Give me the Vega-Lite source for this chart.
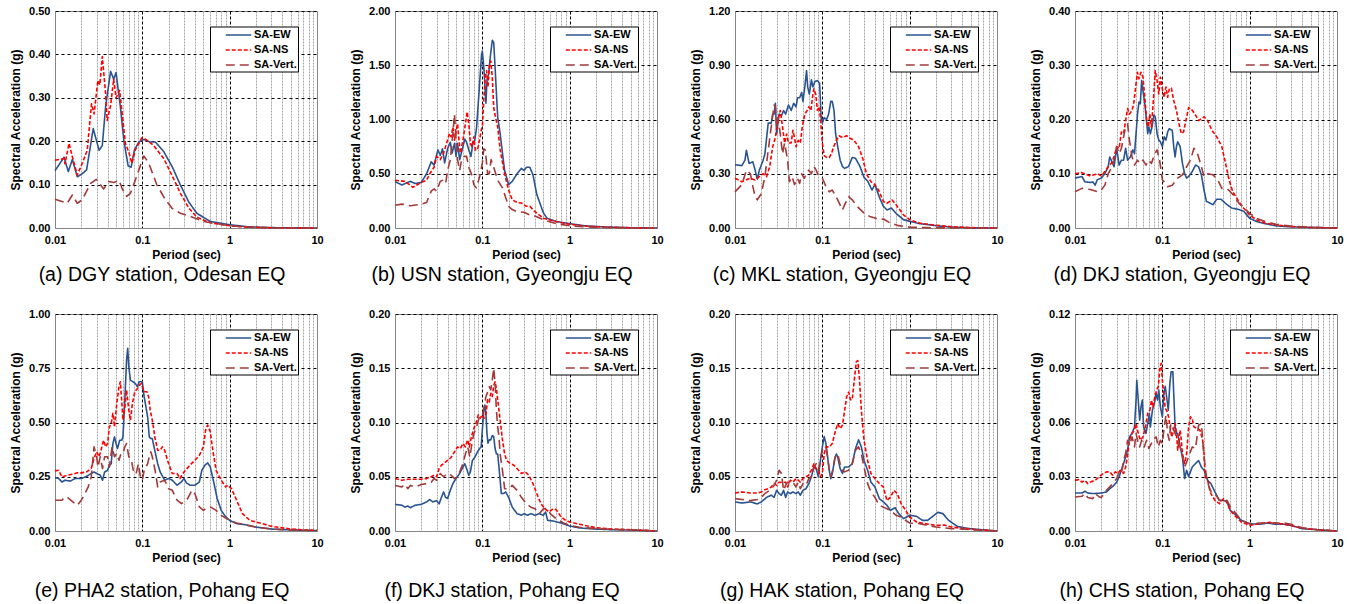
{
"$schema":"https://vega.github.io/schema/vega-lite/v6.json",
"background":"white",
"padding":{"left":8,"top":4,"right":5,"bottom":4},
"columns":4,
"bounds":"flush",
"spacing":{"row":86,"column":78},
"resolve":{"scale":{"color":"independent","strokeDash":"independent","x":"independent","y":"independent"}},
"config":{
 "font":"Liberation Sans",
 "view":{"stroke":"#868686","strokeWidth":1},
 "axis":{"labelFont":"Liberation Sans","labelFontSize":11,"labelFontWeight":"bold","labelColor":"#000","titleFont":"Liberation Sans","titleFontSize":12,"titleFontWeight":"bold","titleColor":"#000","ticks":false,"domainColor":"#868686","domainWidth":1,"grid":true},
 "axisY":{"format":".2f","gridColor":"#000","gridDash":[3,3],"gridWidth":1,"labelPadding":5,"minExtent":30,"maxExtent":30,"titlePadding":3},
 "axisX":{"labelPadding":6.5,"titlePadding":3.5,"labelFlush":false,"labelOverlap":false},
 "legend":{"orient":"none","legendX":155,"legendY":15.5,"symbolType":"M-1.96,0H1.96","symbolSize":169,"symbolStrokeWidth":2,"symbolOffset":20,"labelOffset":8,"labelFont":"Liberation Sans","labelFontSize":11,"labelFontWeight":"bold","labelColor":"#000","padding":1,"rowPadding":2,"strokeColor":"#000","fillColor":"#fff"},
 "title":{"orient":"bottom","anchor":"middle","font":"Liberation Sans","fontSize":19.5,"fontWeight":"normal","color":"#000","dx":-24},
 "line":{"strokeWidth":1.6,"strokeJoin":"round"}
},
"datasets":{
"aEW":[{"t":0.01,"v":0.132},{"t":0.0127,"v":0.163},{"t":0.0142,"v":0.13},{"t":0.0158,"v":0.158},{"t":0.018,"v":0.118},{"t":0.0205,"v":0.125},{"t":0.023,"v":0.134},{"t":0.0274,"v":0.229},{"t":0.032,"v":0.179},{"t":0.0348,"v":0.19},{"t":0.038,"v":0.28},{"t":0.0433,"v":0.361},{"t":0.047,"v":0.343},{"t":0.05,"v":0.358},{"t":0.056,"v":0.28},{"t":0.0614,"v":0.202},{"t":0.0688,"v":0.143},{"t":0.0744,"v":0.14},{"t":0.081,"v":0.179},{"t":0.091,"v":0.198},{"t":0.104,"v":0.204},{"t":0.124,"v":0.198},{"t":0.141,"v":0.198},{"t":0.176,"v":0.176},{"t":0.22,"v":0.141},{"t":0.273,"v":0.099},{"t":0.34,"v":0.06},{"t":0.42,"v":0.034},{"t":0.6,"v":0.015},{"t":1,"v":0.0076},{"t":1.58,"v":0.003},{"t":2.7,"v":0.001},{"t":5,"v":0.0003},{"t":10,"v":0}],
"aNS":[{"t":0.01,"v":0.156},{"t":0.0127,"v":0.16},{"t":0.013,"v":0.148},{"t":0.0145,"v":0.195},{"t":0.0158,"v":0.164},{"t":0.018,"v":0.122},{"t":0.0205,"v":0.149},{"t":0.0234,"v":0.179},{"t":0.0262,"v":0.286},{"t":0.028,"v":0.263},{"t":0.031,"v":0.34},{"t":0.0326,"v":0.33},{"t":0.0348,"v":0.395},{"t":0.038,"v":0.309},{"t":0.0396,"v":0.248},{"t":0.0433,"v":0.282},{"t":0.047,"v":0.343},{"t":0.05,"v":0.3},{"t":0.055,"v":0.317},{"t":0.064,"v":0.195},{"t":0.07,"v":0.175},{"t":0.076,"v":0.149},{"t":0.083,"v":0.18},{"t":0.099,"v":0.208},{"t":0.108,"v":0.205},{"t":0.135,"v":0.19},{"t":0.176,"v":0.16},{"t":0.22,"v":0.12},{"t":0.273,"v":0.08},{"t":0.34,"v":0.046},{"t":0.42,"v":0.025},{"t":0.6,"v":0.012},{"t":1,"v":0.005},{"t":1.6,"v":0.002},{"t":3,"v":0.0005},{"t":10,"v":0}],
"aV":[{"t":0.01,"v":0.066},{"t":0.0138,"v":0.057},{"t":0.0158,"v":0.076},{"t":0.018,"v":0.057},{"t":0.0205,"v":0.065},{"t":0.0256,"v":0.103},{"t":0.0297,"v":0.112},{"t":0.033,"v":0.1},{"t":0.036,"v":0.09},{"t":0.0414,"v":0.107},{"t":0.047,"v":0.105},{"t":0.054,"v":0.11},{"t":0.059,"v":0.09},{"t":0.066,"v":0.073},{"t":0.073,"v":0.08},{"t":0.083,"v":0.11},{"t":0.104,"v":0.166},{"t":0.118,"v":0.15},{"t":0.147,"v":0.099},{"t":0.184,"v":0.065},{"t":0.22,"v":0.045},{"t":0.273,"v":0.034},{"t":0.35,"v":0.027},{"t":0.5,"v":0.015},{"t":1,"v":0.005},{"t":2,"v":0.001},{"t":10,"v":0}],
"bEW":[{"t":0.01,"v":0.427},{"t":0.012,"v":0.397},{"t":0.015,"v":0.43},{"t":0.017,"v":0.41},{"t":0.02,"v":0.42},{"t":0.023,"v":0.5},{"t":0.026,"v":0.61},{"t":0.028,"v":0.58},{"t":0.031,"v":0.72},{"t":0.033,"v":0.67},{"t":0.035,"v":0.73},{"t":0.037,"v":0.6},{"t":0.04,"v":0.73},{"t":0.043,"v":0.79},{"t":0.045,"v":0.69},{"t":0.048,"v":0.78},{"t":0.05,"v":0.66},{"t":0.052,"v":0.78},{"t":0.055,"v":0.63},{"t":0.06,"v":0.75},{"t":0.063,"v":0.82},{"t":0.066,"v":0.79},{"t":0.07,"v":0.72},{"t":0.074,"v":0.66},{"t":0.078,"v":0.78},{"t":0.082,"v":0.81},{"t":0.086,"v":0.93},{"t":0.092,"v":1.27},{"t":0.098,"v":1.6},{"t":0.1,"v":1.63},{"t":0.104,"v":1.48},{"t":0.11,"v":1.15},{"t":0.113,"v":1.36},{"t":0.118,"v":1.42},{"t":0.123,"v":1.57},{"t":0.13,"v":1.73},{"t":0.135,"v":1.71},{"t":0.14,"v":1.48},{"t":0.145,"v":1.24},{"t":0.15,"v":1.02},{"t":0.16,"v":0.87},{"t":0.17,"v":0.69},{"t":0.18,"v":0.53},{"t":0.2,"v":0.4},{"t":0.22,"v":0.43},{"t":0.25,"v":0.5},{"t":0.28,"v":0.55},{"t":0.3,"v":0.53},{"t":0.32,"v":0.56},{"t":0.35,"v":0.56},{"t":0.38,"v":0.49},{"t":0.42,"v":0.31},{"t":0.5,"v":0.14},{"t":0.55,"v":0.09},{"t":0.7,"v":0.06},{"t":1,"v":0.04},{"t":1.5,"v":0.02},{"t":2.5,"v":0.01},{"t":5,"v":0.002},{"t":10,"v":0}],
"bNS":[{"t":0.01,"v":0.44},{"t":0.013,"v":0.43},{"t":0.016,"v":0.375},{"t":0.02,"v":0.42},{"t":0.023,"v":0.44},{"t":0.025,"v":0.5},{"t":0.028,"v":0.56},{"t":0.03,"v":0.66},{"t":0.033,"v":0.63},{"t":0.036,"v":0.69},{"t":0.038,"v":0.75},{"t":0.042,"v":0.87},{"t":0.044,"v":0.84},{"t":0.046,"v":0.93},{"t":0.048,"v":0.81},{"t":0.052,"v":0.96},{"t":0.054,"v":0.81},{"t":0.056,"v":0.69},{"t":0.06,"v":0.81},{"t":0.064,"v":0.96},{"t":0.067,"v":1.07},{"t":0.07,"v":0.96},{"t":0.073,"v":0.78},{"t":0.076,"v":0.75},{"t":0.08,"v":0.84},{"t":0.083,"v":0.72},{"t":0.088,"v":0.72},{"t":0.093,"v":0.81},{"t":0.097,"v":0.9},{"t":0.1,"v":0.93},{"t":0.104,"v":1.18},{"t":0.108,"v":1.39},{"t":0.112,"v":1.45},{"t":0.116,"v":1.3},{"t":0.12,"v":1.48},{"t":0.125,"v":1.54},{"t":0.13,"v":1.39},{"t":0.135,"v":1.11},{"t":0.14,"v":1.04},{"t":0.15,"v":0.93},{"t":0.16,"v":0.72},{"t":0.18,"v":0.5},{"t":0.2,"v":0.35},{"t":0.22,"v":0.26},{"t":0.25,"v":0.235},{"t":0.28,"v":0.23},{"t":0.32,"v":0.2},{"t":0.35,"v":0.2},{"t":0.4,"v":0.15},{"t":0.5,"v":0.09},{"t":0.7,"v":0.06},{"t":1,"v":0.034},{"t":1.5,"v":0.018},{"t":2.5,"v":0.008},{"t":5,"v":0.002},{"t":10,"v":0}],
"bV":[{"t":0.01,"v":0.21},{"t":0.012,"v":0.22},{"t":0.015,"v":0.205},{"t":0.02,"v":0.22},{"t":0.023,"v":0.235},{"t":0.026,"v":0.34},{"t":0.028,"v":0.36},{"t":0.03,"v":0.34},{"t":0.033,"v":0.43},{"t":0.035,"v":0.44},{"t":0.038,"v":0.41},{"t":0.04,"v":0.53},{"t":0.043,"v":0.63},{"t":0.046,"v":0.87},{"t":0.048,"v":1.05},{"t":0.05,"v":0.81},{"t":0.052,"v":0.63},{"t":0.055,"v":0.53},{"t":0.058,"v":0.63},{"t":0.062,"v":0.66},{"t":0.066,"v":0.66},{"t":0.07,"v":0.56},{"t":0.075,"v":0.5},{"t":0.08,"v":0.4},{"t":0.085,"v":0.37},{"t":0.09,"v":0.43},{"t":0.095,"v":0.5},{"t":0.1,"v":0.6},{"t":0.104,"v":0.73},{"t":0.108,"v":0.72},{"t":0.115,"v":0.5},{"t":0.12,"v":0.5},{"t":0.126,"v":0.63},{"t":0.135,"v":0.56},{"t":0.15,"v":0.44},{"t":0.17,"v":0.37},{"t":0.2,"v":0.2},{"t":0.22,"v":0.17},{"t":0.25,"v":0.15},{"t":0.3,"v":0.145},{"t":0.35,"v":0.12},{"t":0.4,"v":0.11},{"t":0.5,"v":0.076},{"t":0.7,"v":0.04},{"t":1,"v":0.02},{"t":2,"v":0.006},{"t":5,"v":0.001},{"t":10,"v":0}],
"cEW":[{"t":0.01,"v":0.35},{"t":0.012,"v":0.345},{"t":0.013,"v":0.375},{"t":0.0135,"v":0.43},{"t":0.0145,"v":0.357},{"t":0.016,"v":0.366},{"t":0.017,"v":0.32},{"t":0.018,"v":0.27},{"t":0.019,"v":0.32},{"t":0.021,"v":0.375},{"t":0.022,"v":0.41},{"t":0.024,"v":0.58},{"t":0.026,"v":0.58},{"t":0.027,"v":0.63},{"t":0.028,"v":0.63},{"t":0.029,"v":0.69},{"t":0.03,"v":0.52},{"t":0.032,"v":0.63},{"t":0.034,"v":0.62},{"t":0.036,"v":0.65},{"t":0.038,"v":0.63},{"t":0.041,"v":0.68},{"t":0.044,"v":0.65},{"t":0.047,"v":0.69},{"t":0.05,"v":0.67},{"t":0.052,"v":0.72},{"t":0.055,"v":0.72},{"t":0.058,"v":0.75},{"t":0.06,"v":0.7},{"t":0.063,"v":0.78},{"t":0.066,"v":0.87},{"t":0.068,"v":0.78},{"t":0.071,"v":0.74},{"t":0.075,"v":0.82},{"t":0.078,"v":0.78},{"t":0.082,"v":0.81},{"t":0.088,"v":0.815},{"t":0.093,"v":0.8},{"t":0.097,"v":0.61},{"t":0.1,"v":0.58},{"t":0.105,"v":0.61},{"t":0.112,"v":0.6},{"t":0.118,"v":0.63},{"t":0.125,"v":0.7},{"t":0.13,"v":0.7},{"t":0.136,"v":0.65},{"t":0.142,"v":0.52},{"t":0.15,"v":0.45},{"t":0.16,"v":0.375},{"t":0.17,"v":0.34},{"t":0.18,"v":0.33},{"t":0.2,"v":0.34},{"t":0.22,"v":0.39},{"t":0.24,"v":0.385},{"t":0.27,"v":0.34},{"t":0.3,"v":0.28},{"t":0.33,"v":0.26},{"t":0.37,"v":0.21},{"t":0.4,"v":0.24},{"t":0.45,"v":0.17},{"t":0.5,"v":0.12},{"t":0.55,"v":0.1},{"t":0.62,"v":0.11},{"t":0.7,"v":0.08},{"t":0.85,"v":0.046},{"t":1,"v":0.037},{"t":1.3,"v":0.024},{"t":2,"v":0.013},{"t":3,"v":0.005},{"t":5,"v":0.001},{"t":10,"v":0}],
"cNS":[{"t":0.01,"v":0.275},{"t":0.012,"v":0.256},{"t":0.015,"v":0.275},{"t":0.017,"v":0.266},{"t":0.019,"v":0.284},{"t":0.021,"v":0.3},{"t":0.023,"v":0.284},{"t":0.025,"v":0.34},{"t":0.027,"v":0.45},{"t":0.029,"v":0.5},{"t":0.031,"v":0.6},{"t":0.033,"v":0.65},{"t":0.035,"v":0.56},{"t":0.037,"v":0.47},{"t":0.039,"v":0.52},{"t":0.041,"v":0.47},{"t":0.044,"v":0.47},{"t":0.046,"v":0.54},{"t":0.048,"v":0.5},{"t":0.05,"v":0.45},{"t":0.053,"v":0.485},{"t":0.056,"v":0.47},{"t":0.059,"v":0.56},{"t":0.063,"v":0.63},{"t":0.067,"v":0.65},{"t":0.07,"v":0.67},{"t":0.074,"v":0.65},{"t":0.077,"v":0.72},{"t":0.08,"v":0.77},{"t":0.084,"v":0.74},{"t":0.088,"v":0.65},{"t":0.092,"v":0.67},{"t":0.095,"v":0.61},{"t":0.1,"v":0.47},{"t":0.105,"v":0.4},{"t":0.112,"v":0.39},{"t":0.12,"v":0.39},{"t":0.127,"v":0.41},{"t":0.135,"v":0.45},{"t":0.145,"v":0.485},{"t":0.155,"v":0.51},{"t":0.17,"v":0.5},{"t":0.19,"v":0.51},{"t":0.21,"v":0.495},{"t":0.23,"v":0.485},{"t":0.26,"v":0.45},{"t":0.29,"v":0.385},{"t":0.32,"v":0.3},{"t":0.36,"v":0.256},{"t":0.4,"v":0.24},{"t":0.44,"v":0.21},{"t":0.5,"v":0.147},{"t":0.55,"v":0.137},{"t":0.63,"v":0.155},{"t":0.7,"v":0.128},{"t":0.85,"v":0.073},{"t":1,"v":0.046},{"t":1.3,"v":0.027},{"t":2,"v":0.015},{"t":3,"v":0.007},{"t":5,"v":0.002},{"t":10,"v":0}],
"cV":[{"t":0.01,"v":0.2},{"t":0.012,"v":0.24},{"t":0.0135,"v":0.32},{"t":0.015,"v":0.3},{"t":0.016,"v":0.23},{"t":0.017,"v":0.174},{"t":0.018,"v":0.156},{"t":0.02,"v":0.19},{"t":0.022,"v":0.284},{"t":0.024,"v":0.43},{"t":0.026,"v":0.56},{"t":0.028,"v":0.68},{"t":0.029,"v":0.67},{"t":0.03,"v":0.56},{"t":0.031,"v":0.61},{"t":0.033,"v":0.52},{"t":0.035,"v":0.41},{"t":0.037,"v":0.47},{"t":0.04,"v":0.375},{"t":0.042,"v":0.256},{"t":0.045,"v":0.284},{"t":0.048,"v":0.24},{"t":0.052,"v":0.275},{"t":0.055,"v":0.247},{"t":0.058,"v":0.3},{"t":0.062,"v":0.275},{"t":0.066,"v":0.3},{"t":0.07,"v":0.32},{"t":0.075,"v":0.3},{"t":0.08,"v":0.34},{"t":0.085,"v":0.32},{"t":0.09,"v":0.29},{"t":0.1,"v":0.275},{"t":0.11,"v":0.23},{"t":0.12,"v":0.2},{"t":0.13,"v":0.21},{"t":0.15,"v":0.156},{"t":0.17,"v":0.1},{"t":0.18,"v":0.128},{"t":0.2,"v":0.174},{"t":0.22,"v":0.156},{"t":0.25,"v":0.12},{"t":0.3,"v":0.082},{"t":0.35,"v":0.064},{"t":0.4,"v":0.055},{"t":0.45,"v":0.046},{"t":0.5,"v":0.05},{"t":0.6,"v":0.027},{"t":0.75,"v":0.013},{"t":1,"v":0.005},{"t":1.5,"v":0.002},{"t":3,"v":0},{"t":10,"v":0}],
"dEW":[{"t":0.01,"v":0.092},{"t":0.012,"v":0.095},{"t":0.013,"v":0.085},{"t":0.015,"v":0.084},{"t":0.016,"v":0.085},{"t":0.017,"v":0.079},{"t":0.018,"v":0.089},{"t":0.02,"v":0.092},{"t":0.022,"v":0.1},{"t":0.024,"v":0.113},{"t":0.025,"v":0.131},{"t":0.026,"v":0.125},{"t":0.028,"v":0.113},{"t":0.03,"v":0.147},{"t":0.032,"v":0.116},{"t":0.034,"v":0.125},{"t":0.036,"v":0.125},{"t":0.038,"v":0.147},{"t":0.04,"v":0.125},{"t":0.043,"v":0.131},{"t":0.046,"v":0.144},{"t":0.048,"v":0.137},{"t":0.05,"v":0.174},{"t":0.052,"v":0.21},{"t":0.054,"v":0.232},{"t":0.056,"v":0.229},{"t":0.058,"v":0.272},{"t":0.06,"v":0.253},{"t":0.063,"v":0.229},{"t":0.066,"v":0.198},{"t":0.068,"v":0.174},{"t":0.07,"v":0.186},{"t":0.073,"v":0.174},{"t":0.076,"v":0.186},{"t":0.08,"v":0.208},{"t":0.083,"v":0.205},{"t":0.087,"v":0.174},{"t":0.091,"v":0.162},{"t":0.095,"v":0.159},{"t":0.1,"v":0.15},{"t":0.105,"v":0.168},{"t":0.11,"v":0.162},{"t":0.115,"v":0.177},{"t":0.12,"v":0.183},{"t":0.13,"v":0.18},{"t":0.135,"v":0.15},{"t":0.14,"v":0.131},{"t":0.145,"v":0.15},{"t":0.15,"v":0.159},{"t":0.16,"v":0.15},{"t":0.17,"v":0.119},{"t":0.18,"v":0.1},{"t":0.19,"v":0.092},{"t":0.2,"v":0.095},{"t":0.22,"v":0.104},{"t":0.24,"v":0.116},{"t":0.26,"v":0.113},{"t":0.28,"v":0.098},{"t":0.3,"v":0.07},{"t":0.32,"v":0.049},{"t":0.35,"v":0.046},{"t":0.38,"v":0.043},{"t":0.42,"v":0.053},{"t":0.47,"v":0.053},{"t":0.55,"v":0.043},{"t":0.62,"v":0.037},{"t":0.75,"v":0.034},{"t":0.85,"v":0.031},{"t":1,"v":0.018},{"t":1.2,"v":0.012},{"t":1.5,"v":0.008},{"t":2,"v":0.004},{"t":3,"v":0.002},{"t":10,"v":0}],
"dNS":[{"t":0.01,"v":0.1},{"t":0.012,"v":0.102},{"t":0.015,"v":0.096},{"t":0.018,"v":0.1},{"t":0.02,"v":0.096},{"t":0.022,"v":0.104},{"t":0.024,"v":0.113},{"t":0.026,"v":0.119},{"t":0.028,"v":0.131},{"t":0.03,"v":0.15},{"t":0.032,"v":0.147},{"t":0.034,"v":0.177},{"t":0.036,"v":0.174},{"t":0.038,"v":0.198},{"t":0.04,"v":0.22},{"t":0.042,"v":0.21},{"t":0.045,"v":0.217},{"t":0.047,"v":0.229},{"t":0.05,"v":0.266},{"t":0.052,"v":0.287},{"t":0.054,"v":0.275},{"t":0.057,"v":0.287},{"t":0.06,"v":0.278},{"t":0.063,"v":0.241},{"t":0.066,"v":0.198},{"t":0.069,"v":0.186},{"t":0.072,"v":0.21},{"t":0.075,"v":0.186},{"t":0.079,"v":0.235},{"t":0.083,"v":0.29},{"t":0.087,"v":0.272},{"t":0.091,"v":0.247},{"t":0.095,"v":0.278},{"t":0.1,"v":0.256},{"t":0.105,"v":0.241},{"t":0.11,"v":0.26},{"t":0.115,"v":0.241},{"t":0.12,"v":0.256},{"t":0.127,"v":0.258},{"t":0.135,"v":0.235},{"t":0.145,"v":0.217},{"t":0.155,"v":0.192},{"t":0.165,"v":0.174},{"t":0.175,"v":0.177},{"t":0.19,"v":0.205},{"t":0.2,"v":0.222},{"t":0.22,"v":0.217},{"t":0.24,"v":0.208},{"t":0.26,"v":0.198},{"t":0.3,"v":0.205},{"t":0.33,"v":0.198},{"t":0.37,"v":0.18},{"t":0.42,"v":0.168},{"t":0.48,"v":0.15},{"t":0.53,"v":0.119},{"t":0.58,"v":0.089},{"t":0.64,"v":0.067},{"t":0.75,"v":0.049},{"t":0.85,"v":0.037},{"t":1,"v":0.024},{"t":1.2,"v":0.015},{"t":1.5,"v":0.009},{"t":2,"v":0.0055},{"t":3,"v":0.0025},{"t":5,"v":0.001},{"t":10,"v":0}],
"dV":[{"t":0.01,"v":0.067},{"t":0.012,"v":0.073},{"t":0.015,"v":0.071},{"t":0.018,"v":0.067},{"t":0.02,"v":0.07},{"t":0.022,"v":0.079},{"t":0.024,"v":0.1},{"t":0.026,"v":0.11},{"t":0.028,"v":0.125},{"t":0.03,"v":0.15},{"t":0.032,"v":0.137},{"t":0.034,"v":0.147},{"t":0.036,"v":0.168},{"t":0.038,"v":0.186},{"t":0.04,"v":0.192},{"t":0.042,"v":0.162},{"t":0.045,"v":0.131},{"t":0.048,"v":0.116},{"t":0.052,"v":0.125},{"t":0.055,"v":0.119},{"t":0.06,"v":0.125},{"t":0.065,"v":0.116},{"t":0.07,"v":0.125},{"t":0.075,"v":0.119},{"t":0.082,"v":0.137},{"t":0.087,"v":0.144},{"t":0.093,"v":0.125},{"t":0.1,"v":0.089},{"t":0.105,"v":0.085},{"t":0.115,"v":0.076},{"t":0.13,"v":0.079},{"t":0.15,"v":0.092},{"t":0.17,"v":0.098},{"t":0.19,"v":0.113},{"t":0.21,"v":0.125},{"t":0.23,"v":0.147},{"t":0.25,"v":0.14},{"t":0.28,"v":0.113},{"t":0.3,"v":0.095},{"t":0.33,"v":0.1},{"t":0.38,"v":0.098},{"t":0.43,"v":0.089},{"t":0.48,"v":0.073},{"t":0.55,"v":0.073},{"t":0.65,"v":0.061},{"t":0.75,"v":0.046},{"t":0.9,"v":0.034},{"t":1,"v":0.027},{"t":1.2,"v":0.018},{"t":1.5,"v":0.012},{"t":2,"v":0.007},{"t":3,"v":0.0035},{"t":5,"v":0.001},{"t":10,"v":0}],
"eEW":[{"t":0.01,"v":0.246},{"t":0.011,"v":0.242},{"t":0.012,"v":0.226},{"t":0.013,"v":0.234},{"t":0.015,"v":0.23},{"t":0.017,"v":0.242},{"t":0.02,"v":0.242},{"t":0.023,"v":0.252},{"t":0.026,"v":0.265},{"t":0.028,"v":0.272},{"t":0.03,"v":0.265},{"t":0.033,"v":0.257},{"t":0.035,"v":0.234},{"t":0.037,"v":0.272},{"t":0.04,"v":0.28},{"t":0.042,"v":0.303},{"t":0.044,"v":0.31},{"t":0.046,"v":0.403},{"t":0.048,"v":0.434},{"t":0.05,"v":0.403},{"t":0.052,"v":0.38},{"t":0.055,"v":0.418},{"t":0.058,"v":0.418},{"t":0.06,"v":0.434},{"t":0.063,"v":0.603},{"t":0.066,"v":0.788},{"t":0.068,"v":0.842},{"t":0.07,"v":0.757},{"t":0.073,"v":0.695},{"t":0.078,"v":0.688},{"t":0.083,"v":0.68},{"t":0.088,"v":0.665},{"t":0.092,"v":0.688},{"t":0.097,"v":0.688},{"t":0.1,"v":0.688},{"t":0.105,"v":0.618},{"t":0.11,"v":0.572},{"t":0.115,"v":0.526},{"t":0.12,"v":0.434},{"t":0.125,"v":0.426},{"t":0.13,"v":0.426},{"t":0.14,"v":0.365},{"t":0.15,"v":0.31},{"t":0.16,"v":0.272},{"t":0.18,"v":0.234},{"t":0.2,"v":0.242},{"t":0.22,"v":0.234},{"t":0.25,"v":0.211},{"t":0.28,"v":0.226},{"t":0.3,"v":0.242},{"t":0.32,"v":0.222},{"t":0.35,"v":0.211},{"t":0.4,"v":0.211},{"t":0.45,"v":0.226},{"t":0.48,"v":0.28},{"t":0.52,"v":0.303},{"t":0.56,"v":0.314},{"t":0.6,"v":0.295},{"t":0.65,"v":0.234},{"t":0.72,"v":0.149},{"t":0.8,"v":0.095},{"t":0.9,"v":0.065},{"t":1,"v":0.049},{"t":1.2,"v":0.034},{"t":1.5,"v":0.029},{"t":2,"v":0.018},{"t":3,"v":0.009},{"t":5,"v":0.005},{"t":10,"v":0.002}],
"eNS":[{"t":0.01,"v":0.277},{"t":0.011,"v":0.28},{"t":0.012,"v":0.249},{"t":0.014,"v":0.257},{"t":0.016,"v":0.262},{"t":0.018,"v":0.268},{"t":0.02,"v":0.268},{"t":0.023,"v":0.272},{"t":0.026,"v":0.288},{"t":0.028,"v":0.334},{"t":0.03,"v":0.365},{"t":0.032,"v":0.342},{"t":0.034,"v":0.38},{"t":0.036,"v":0.418},{"t":0.038,"v":0.388},{"t":0.04,"v":0.403},{"t":0.042,"v":0.48},{"t":0.044,"v":0.495},{"t":0.046,"v":0.542},{"t":0.048,"v":0.48},{"t":0.051,"v":0.588},{"t":0.054,"v":0.665},{"t":0.056,"v":0.688},{"t":0.058,"v":0.603},{"t":0.06,"v":0.511},{"t":0.063,"v":0.572},{"t":0.066,"v":0.649},{"t":0.07,"v":0.557},{"t":0.073,"v":0.511},{"t":0.077,"v":0.588},{"t":0.082,"v":0.642},{"t":0.088,"v":0.657},{"t":0.093,"v":0.672},{"t":0.098,"v":0.68},{"t":0.102,"v":0.649},{"t":0.107,"v":0.642},{"t":0.113,"v":0.642},{"t":0.118,"v":0.618},{"t":0.123,"v":0.557},{"t":0.13,"v":0.511},{"t":0.14,"v":0.426},{"t":0.15,"v":0.372},{"t":0.16,"v":0.372},{"t":0.17,"v":0.388},{"t":0.18,"v":0.372},{"t":0.2,"v":0.31},{"t":0.22,"v":0.265},{"t":0.25,"v":0.265},{"t":0.27,"v":0.242},{"t":0.3,"v":0.272},{"t":0.35,"v":0.303},{"t":0.4,"v":0.326},{"t":0.45,"v":0.349},{"t":0.5,"v":0.388},{"t":0.53,"v":0.465},{"t":0.56,"v":0.488},{"t":0.6,"v":0.457},{"t":0.65,"v":0.357},{"t":0.7,"v":0.28},{"t":0.8,"v":0.234},{"t":0.9,"v":0.203},{"t":0.95,"v":0.211},{"t":1.05,"v":0.195},{"t":1.2,"v":0.142},{"t":1.4,"v":0.08},{"t":1.7,"v":0.049},{"t":2,"v":0.042},{"t":3,"v":0.022},{"t":5,"v":0.009},{"t":7,"v":0.005},{"t":10,"v":0.003}],
"eV":[{"t":0.01,"v":0.142},{"t":0.012,"v":0.142},{"t":0.013,"v":0.157},{"t":0.014,"v":0.154},{"t":0.016,"v":0.134},{"t":0.018,"v":0.118},{"t":0.02,"v":0.142},{"t":0.022,"v":0.172},{"t":0.024,"v":0.203},{"t":0.026,"v":0.249},{"t":0.028,"v":0.388},{"t":0.03,"v":0.342},{"t":0.031,"v":0.295},{"t":0.033,"v":0.342},{"t":0.035,"v":0.288},{"t":0.037,"v":0.342},{"t":0.04,"v":0.342},{"t":0.042,"v":0.295},{"t":0.045,"v":0.388},{"t":0.048,"v":0.342},{"t":0.051,"v":0.357},{"t":0.054,"v":0.326},{"t":0.057,"v":0.357},{"t":0.06,"v":0.357},{"t":0.063,"v":0.388},{"t":0.066,"v":0.403},{"t":0.07,"v":0.342},{"t":0.075,"v":0.326},{"t":0.08,"v":0.265},{"t":0.085,"v":0.265},{"t":0.09,"v":0.31},{"t":0.095,"v":0.249},{"t":0.1,"v":0.234},{"t":0.105,"v":0.28},{"t":0.11,"v":0.295},{"t":0.115,"v":0.31},{"t":0.12,"v":0.342},{"t":0.125,"v":0.365},{"t":0.13,"v":0.342},{"t":0.14,"v":0.28},{"t":0.15,"v":0.203},{"t":0.16,"v":0.226},{"t":0.18,"v":0.234},{"t":0.2,"v":0.195},{"t":0.22,"v":0.188},{"t":0.25,"v":0.142},{"t":0.28,"v":0.126},{"t":0.3,"v":0.134},{"t":0.33,"v":0.149},{"t":0.37,"v":0.188},{"t":0.4,"v":0.172},{"t":0.45,"v":0.111},{"t":0.5,"v":0.095},{"t":0.55,"v":0.108},{"t":0.6,"v":0.111},{"t":0.7,"v":0.095},{"t":0.8,"v":0.072},{"t":1,"v":0.049},{"t":1.2,"v":0.037},{"t":1.5,"v":0.029},{"t":2,"v":0.018},{"t":3,"v":0.009},{"t":5,"v":0.005},{"t":10,"v":0.002}],
"fEW":[{"t":0.01,"v":0.0246},{"t":0.012,"v":0.0237},{"t":0.013,"v":0.022},{"t":0.014,"v":0.023},{"t":0.015,"v":0.0215},{"t":0.017,"v":0.0237},{"t":0.02,"v":0.0246},{"t":0.023,"v":0.0268},{"t":0.025,"v":0.029},{"t":0.027,"v":0.0268},{"t":0.03,"v":0.028},{"t":0.032,"v":0.025},{"t":0.034,"v":0.031},{"t":0.036,"v":0.036},{"t":0.038,"v":0.031},{"t":0.04,"v":0.03},{"t":0.043,"v":0.0375},{"t":0.046,"v":0.0437},{"t":0.05,"v":0.0483},{"t":0.055,"v":0.053},{"t":0.06,"v":0.059},{"t":0.063,"v":0.062},{"t":0.066,"v":0.0575},{"t":0.07,"v":0.0514},{"t":0.073,"v":0.0545},{"t":0.077,"v":0.065},{"t":0.082,"v":0.068},{"t":0.088,"v":0.073},{"t":0.093,"v":0.076},{"t":0.097,"v":0.0775},{"t":0.1,"v":0.093},{"t":0.104,"v":0.111},{"t":0.107,"v":0.116},{"t":0.11,"v":0.108},{"t":0.113,"v":0.09},{"t":0.116,"v":0.081},{"t":0.12,"v":0.084},{"t":0.125,"v":0.084},{"t":0.13,"v":0.088},{"t":0.135,"v":0.087},{"t":0.14,"v":0.076},{"t":0.145,"v":0.071},{"t":0.15,"v":0.071},{"t":0.155,"v":0.059},{"t":0.16,"v":0.0468},{"t":0.165,"v":0.0345},{"t":0.175,"v":0.0345},{"t":0.185,"v":0.036},{"t":0.2,"v":0.031},{"t":0.22,"v":0.022},{"t":0.25,"v":0.016},{"t":0.28,"v":0.0145},{"t":0.3,"v":0.016},{"t":0.33,"v":0.0145},{"t":0.36,"v":0.016},{"t":0.4,"v":0.0145},{"t":0.45,"v":0.016},{"t":0.5,"v":0.0145},{"t":0.53,"v":0.0175},{"t":0.56,"v":0.0098},{"t":0.65,"v":0.0092},{"t":0.8,"v":0.0074},{"t":1,"v":0.0046},{"t":1.3,"v":0.0028},{"t":2,"v":0.0018},{"t":3,"v":0.0012},{"t":5,"v":0.0009},{"t":10,"v":0}],
"fNS":[{"t":0.01,"v":0.0483},{"t":0.012,"v":0.0468},{"t":0.014,"v":0.0477},{"t":0.017,"v":0.0477},{"t":0.02,"v":0.0477},{"t":0.023,"v":0.0483},{"t":0.026,"v":0.05},{"t":0.028,"v":0.0514},{"t":0.03,"v":0.05},{"t":0.032,"v":0.0575},{"t":0.034,"v":0.0606},{"t":0.036,"v":0.062},{"t":0.04,"v":0.065},{"t":0.044,"v":0.068},{"t":0.048,"v":0.073},{"t":0.052,"v":0.0775},{"t":0.056,"v":0.076},{"t":0.06,"v":0.0806},{"t":0.064,"v":0.0775},{"t":0.068,"v":0.084},{"t":0.071,"v":0.0775},{"t":0.075,"v":0.087},{"t":0.08,"v":0.0945},{"t":0.085,"v":0.1},{"t":0.09,"v":0.107},{"t":0.095,"v":0.104},{"t":0.1,"v":0.107},{"t":0.105,"v":0.104},{"t":0.11,"v":0.108},{"t":0.115,"v":0.121},{"t":0.12,"v":0.119},{"t":0.125,"v":0.127},{"t":0.13,"v":0.124},{"t":0.135,"v":0.134},{"t":0.14,"v":0.1375},{"t":0.145,"v":0.131},{"t":0.15,"v":0.121},{"t":0.16,"v":0.102},{"t":0.17,"v":0.084},{"t":0.18,"v":0.071},{"t":0.19,"v":0.065},{"t":0.21,"v":0.062},{"t":0.23,"v":0.0606},{"t":0.26,"v":0.056},{"t":0.28,"v":0.053},{"t":0.31,"v":0.0545},{"t":0.34,"v":0.0514},{"t":0.38,"v":0.0437},{"t":0.42,"v":0.0345},{"t":0.47,"v":0.025},{"t":0.52,"v":0.0206},{"t":0.58,"v":0.0175},{"t":0.65,"v":0.0206},{"t":0.7,"v":0.0197},{"t":0.8,"v":0.0129},{"t":0.9,"v":0.0098},{"t":1,"v":0.0083},{"t":1.3,"v":0.0062},{"t":1.6,"v":0.0046},{"t":2,"v":0.0031},{"t":3,"v":0.0018},{"t":5,"v":0.0012},{"t":7,"v":0.0006},{"t":10,"v":0}],
"fV":[{"t":0.01,"v":0.042},{"t":0.012,"v":0.0406},{"t":0.013,"v":0.043},{"t":0.014,"v":0.039},{"t":0.015,"v":0.042},{"t":0.017,"v":0.0406},{"t":0.02,"v":0.0428},{"t":0.023,"v":0.0437},{"t":0.026,"v":0.045},{"t":0.028,"v":0.0483},{"t":0.03,"v":0.0468},{"t":0.033,"v":0.053},{"t":0.036,"v":0.05},{"t":0.04,"v":0.053},{"t":0.044,"v":0.0514},{"t":0.048,"v":0.0483},{"t":0.052,"v":0.05},{"t":0.056,"v":0.056},{"t":0.06,"v":0.062},{"t":0.064,"v":0.071},{"t":0.068,"v":0.0775},{"t":0.072,"v":0.068},{"t":0.076,"v":0.0806},{"t":0.08,"v":0.09},{"t":0.085,"v":0.0945},{"t":0.09,"v":0.102},{"t":0.095,"v":0.107},{"t":0.1,"v":0.107},{"t":0.105,"v":0.1145},{"t":0.11,"v":0.124},{"t":0.115,"v":0.128},{"t":0.12,"v":0.133},{"t":0.125,"v":0.13},{"t":0.13,"v":0.139},{"t":0.135,"v":0.15},{"t":0.14,"v":0.136},{"t":0.145,"v":0.111},{"t":0.15,"v":0.096},{"t":0.155,"v":0.087},{"t":0.16,"v":0.071},{"t":0.17,"v":0.056},{"t":0.18,"v":0.039},{"t":0.2,"v":0.039},{"t":0.22,"v":0.042},{"t":0.25,"v":0.0375},{"t":0.28,"v":0.031},{"t":0.32,"v":0.025},{"t":0.36,"v":0.022},{"t":0.4,"v":0.0206},{"t":0.45,"v":0.016},{"t":0.5,"v":0.0206},{"t":0.55,"v":0.0206},{"t":0.6,"v":0.016},{"t":0.7,"v":0.0114},{"t":0.85,"v":0.0074},{"t":1,"v":0.0052},{"t":1.3,"v":0.0034},{"t":2,"v":0.0022},{"t":3,"v":0.0015},{"t":5,"v":0.0012},{"t":10,"v":0}],
"gEW":[{"t":0.01,"v":0.0268},{"t":0.012,"v":0.0258},{"t":0.015,"v":0.0268},{"t":0.018,"v":0.025},{"t":0.02,"v":0.0268},{"t":0.023,"v":0.031},{"t":0.026,"v":0.033},{"t":0.028,"v":0.031},{"t":0.03,"v":0.0375},{"t":0.032,"v":0.0345},{"t":0.034,"v":0.033},{"t":0.036,"v":0.0375},{"t":0.038,"v":0.031},{"t":0.04,"v":0.036},{"t":0.043,"v":0.0345},{"t":0.046,"v":0.036},{"t":0.05,"v":0.0345},{"t":0.053,"v":0.036},{"t":0.056,"v":0.033},{"t":0.06,"v":0.0375},{"t":0.065,"v":0.039},{"t":0.07,"v":0.0437},{"t":0.075,"v":0.05},{"t":0.08,"v":0.059},{"t":0.085,"v":0.0575},{"t":0.09,"v":0.05},{"t":0.095,"v":0.065},{"t":0.1,"v":0.0775},{"t":0.105,"v":0.087},{"t":0.11,"v":0.0806},{"t":0.115,"v":0.068},{"t":0.12,"v":0.056},{"t":0.125,"v":0.0483},{"t":0.13,"v":0.053},{"t":0.14,"v":0.068},{"t":0.145,"v":0.071},{"t":0.15,"v":0.068},{"t":0.16,"v":0.0575},{"t":0.17,"v":0.053},{"t":0.18,"v":0.059},{"t":0.2,"v":0.059},{"t":0.22,"v":0.062},{"t":0.24,"v":0.076},{"t":0.26,"v":0.084},{"t":0.28,"v":0.0775},{"t":0.3,"v":0.065},{"t":0.33,"v":0.056},{"t":0.36,"v":0.045},{"t":0.4,"v":0.0406},{"t":0.45,"v":0.0298},{"t":0.5,"v":0.0268},{"t":0.55,"v":0.0237},{"t":0.6,"v":0.019},{"t":0.68,"v":0.0215},{"t":0.75,"v":0.016},{"t":0.85,"v":0.0114},{"t":1,"v":0.0145},{"t":1.2,"v":0.0135},{"t":1.4,"v":0.0098},{"t":1.6,"v":0.0098},{"t":1.8,"v":0.0129},{"t":2.1,"v":0.0172},{"t":2.4,"v":0.016},{"t":2.8,"v":0.0098},{"t":3.5,"v":0.0043},{"t":4.5,"v":0.0025},{"t":6,"v":0.0015},{"t":10,"v":0}],
"gNS":[{"t":0.01,"v":0.035},{"t":0.012,"v":0.036},{"t":0.015,"v":0.035},{"t":0.018,"v":0.035},{"t":0.02,"v":0.036},{"t":0.022,"v":0.038},{"t":0.024,"v":0.039},{"t":0.026,"v":0.0406},{"t":0.028,"v":0.0437},{"t":0.03,"v":0.042},{"t":0.032,"v":0.045},{"t":0.035,"v":0.045},{"t":0.038,"v":0.045},{"t":0.04,"v":0.0406},{"t":0.043,"v":0.0468},{"t":0.046,"v":0.045},{"t":0.05,"v":0.0483},{"t":0.053,"v":0.0468},{"t":0.056,"v":0.045},{"t":0.06,"v":0.0483},{"t":0.065,"v":0.05},{"t":0.07,"v":0.0514},{"t":0.075,"v":0.056},{"t":0.08,"v":0.062},{"t":0.085,"v":0.0575},{"t":0.09,"v":0.056},{"t":0.095,"v":0.05},{"t":0.1,"v":0.053},{"t":0.105,"v":0.071},{"t":0.11,"v":0.0775},{"t":0.12,"v":0.0775},{"t":0.13,"v":0.0806},{"t":0.14,"v":0.091},{"t":0.15,"v":0.099},{"t":0.16,"v":0.0945},{"t":0.17,"v":0.0975},{"t":0.18,"v":0.111},{"t":0.19,"v":0.124},{"t":0.2,"v":0.128},{"t":0.21,"v":0.121},{"t":0.22,"v":0.121},{"t":0.23,"v":0.136},{"t":0.245,"v":0.156},{"t":0.255,"v":0.157},{"t":0.265,"v":0.142},{"t":0.28,"v":0.111},{"t":0.3,"v":0.0837},{"t":0.33,"v":0.065},{"t":0.36,"v":0.053},{"t":0.4,"v":0.0483},{"t":0.45,"v":0.0437},{"t":0.5,"v":0.0406},{"t":0.55,"v":0.028},{"t":0.6,"v":0.031},{"t":0.66,"v":0.0375},{"t":0.72,"v":0.0345},{"t":0.8,"v":0.025},{"t":0.9,"v":0.019},{"t":1,"v":0.0129},{"t":1.2,"v":0.0083},{"t":1.5,"v":0.0068},{"t":2,"v":0.0052},{"t":2.5,"v":0.0055},{"t":3,"v":0.0037},{"t":4,"v":0.0025},{"t":6,"v":0.0012},{"t":10,"v":0}],
"gV":[{"t":0.01,"v":0.0298},{"t":0.012,"v":0.029},{"t":0.015,"v":0.028},{"t":0.018,"v":0.029},{"t":0.02,"v":0.031},{"t":0.022,"v":0.0345},{"t":0.025,"v":0.0375},{"t":0.028,"v":0.042},{"t":0.03,"v":0.0468},{"t":0.032,"v":0.056},{"t":0.034,"v":0.053},{"t":0.036,"v":0.0375},{"t":0.038,"v":0.042},{"t":0.04,"v":0.045},{"t":0.043,"v":0.0437},{"t":0.046,"v":0.045},{"t":0.05,"v":0.0406},{"t":0.053,"v":0.045},{"t":0.056,"v":0.039},{"t":0.06,"v":0.0437},{"t":0.065,"v":0.042},{"t":0.07,"v":0.0483},{"t":0.075,"v":0.05},{"t":0.08,"v":0.059},{"t":0.085,"v":0.062},{"t":0.09,"v":0.056},{"t":0.095,"v":0.065},{"t":0.1,"v":0.0745},{"t":0.105,"v":0.0775},{"t":0.11,"v":0.0775},{"t":0.115,"v":0.068},{"t":0.12,"v":0.056},{"t":0.125,"v":0.05},{"t":0.13,"v":0.0545},{"t":0.14,"v":0.068},{"t":0.15,"v":0.071},{"t":0.16,"v":0.062},{"t":0.17,"v":0.056},{"t":0.18,"v":0.0545},{"t":0.2,"v":0.056},{"t":0.22,"v":0.062},{"t":0.24,"v":0.0745},{"t":0.26,"v":0.0775},{"t":0.28,"v":0.071},{"t":0.3,"v":0.059},{"t":0.33,"v":0.0437},{"t":0.36,"v":0.036},{"t":0.4,"v":0.031},{"t":0.45,"v":0.0237},{"t":0.5,"v":0.022},{"t":0.6,"v":0.019},{"t":0.7,"v":0.0145},{"t":0.8,"v":0.0129},{"t":0.9,"v":0.0098},{"t":1,"v":0.0074},{"t":1.3,"v":0.0068},{"t":1.6,"v":0.0052},{"t":2,"v":0.0037},{"t":3,"v":0.0022},{"t":5,"v":0.0012},{"t":10,"v":0}],
"hEW":[{"t":0.01,"v":0.021},{"t":0.012,"v":0.021},{"t":0.013,"v":0.022},{"t":0.014,"v":0.021},{"t":0.016,"v":0.0207},{"t":0.02,"v":0.021},{"t":0.023,"v":0.0216},{"t":0.025,"v":0.0234},{"t":0.028,"v":0.0253},{"t":0.03,"v":0.027},{"t":0.032,"v":0.03},{"t":0.034,"v":0.0336},{"t":0.036,"v":0.0373},{"t":0.038,"v":0.041},{"t":0.04,"v":0.0447},{"t":0.042,"v":0.052},{"t":0.045,"v":0.054},{"t":0.048,"v":0.0576},{"t":0.05,"v":0.0724},{"t":0.051,"v":0.0834},{"t":0.053,"v":0.0724},{"t":0.055,"v":0.0613},{"t":0.057,"v":0.0687},{"t":0.059,"v":0.0724},{"t":0.061,"v":0.0576},{"t":0.065,"v":0.054},{"t":0.068,"v":0.0594},{"t":0.071,"v":0.065},{"t":0.073,"v":0.0576},{"t":0.077,"v":0.0668},{"t":0.081,"v":0.0705},{"t":0.085,"v":0.076},{"t":0.088,"v":0.0724},{"t":0.091,"v":0.078},{"t":0.095,"v":0.0687},{"t":0.1,"v":0.0631},{"t":0.104,"v":0.076},{"t":0.108,"v":0.08},{"t":0.112,"v":0.0742},{"t":0.117,"v":0.0668},{"t":0.122,"v":0.0816},{"t":0.126,"v":0.088},{"t":0.132,"v":0.088},{"t":0.136,"v":0.0724},{"t":0.14,"v":0.0576},{"t":0.145,"v":0.054},{"t":0.15,"v":0.054},{"t":0.16,"v":0.0465},{"t":0.17,"v":0.041},{"t":0.18,"v":0.029},{"t":0.19,"v":0.0336},{"t":0.2,"v":0.03},{"t":0.22,"v":0.0354},{"t":0.24,"v":0.0373},{"t":0.26,"v":0.039},{"t":0.28,"v":0.0354},{"t":0.3,"v":0.0336},{"t":0.33,"v":0.028},{"t":0.36,"v":0.0262},{"t":0.4,"v":0.0216},{"t":0.45,"v":0.017},{"t":0.5,"v":0.017},{"t":0.55,"v":0.016},{"t":0.6,"v":0.0114},{"t":0.7,"v":0.0087},{"t":0.8,"v":0.0059},{"t":1,"v":0.004},{"t":1.3,"v":0.0037},{"t":1.6,"v":0.0044},{"t":2,"v":0.0037},{"t":2.5,"v":0.0037},{"t":3,"v":0.003},{"t":4,"v":0.0013},{"t":6,"v":0.0007},{"t":10,"v":0}],
"hNS":[{"t":0.01,"v":0.028},{"t":0.011,"v":0.0284},{"t":0.012,"v":0.0271},{"t":0.013,"v":0.028},{"t":0.014,"v":0.0262},{"t":0.015,"v":0.0271},{"t":0.017,"v":0.028},{"t":0.019,"v":0.03},{"t":0.021,"v":0.0318},{"t":0.023,"v":0.0327},{"t":0.025,"v":0.0327},{"t":0.027,"v":0.0308},{"t":0.029,"v":0.0327},{"t":0.031,"v":0.0318},{"t":0.033,"v":0.0336},{"t":0.036,"v":0.0318},{"t":0.038,"v":0.0354},{"t":0.04,"v":0.0419},{"t":0.042,"v":0.0502},{"t":0.045,"v":0.054},{"t":0.048,"v":0.0557},{"t":0.05,"v":0.0594},{"t":0.053,"v":0.054},{"t":0.056,"v":0.0502},{"t":0.06,"v":0.052},{"t":0.064,"v":0.0576},{"t":0.068,"v":0.065},{"t":0.072,"v":0.0668},{"t":0.075,"v":0.0724},{"t":0.078,"v":0.0687},{"t":0.082,"v":0.0742},{"t":0.086,"v":0.078},{"t":0.09,"v":0.08},{"t":0.094,"v":0.0908},{"t":0.097,"v":0.0927},{"t":0.1,"v":0.0834},{"t":0.104,"v":0.076},{"t":0.108,"v":0.0677},{"t":0.112,"v":0.0668},{"t":0.118,"v":0.0631},{"t":0.123,"v":0.0576},{"t":0.128,"v":0.052},{"t":0.133,"v":0.0548},{"t":0.14,"v":0.0594},{"t":0.145,"v":0.054},{"t":0.15,"v":0.0447},{"t":0.155,"v":0.0502},{"t":0.16,"v":0.0557},{"t":0.165,"v":0.0502},{"t":0.17,"v":0.0428},{"t":0.18,"v":0.0373},{"t":0.19,"v":0.0428},{"t":0.2,"v":0.0576},{"t":0.21,"v":0.0631},{"t":0.22,"v":0.0622},{"t":0.23,"v":0.0576},{"t":0.25,"v":0.0567},{"t":0.27,"v":0.0557},{"t":0.29,"v":0.0502},{"t":0.3,"v":0.0428},{"t":0.31,"v":0.03},{"t":0.33,"v":0.028},{"t":0.36,"v":0.0207},{"t":0.4,"v":0.017},{"t":0.45,"v":0.0151},{"t":0.5,"v":0.0179},{"t":0.55,"v":0.016},{"t":0.6,"v":0.0114},{"t":0.7,"v":0.0078},{"t":0.8,"v":0.005},{"t":1,"v":0.0031},{"t":1.3,"v":0.004},{"t":1.7,"v":0.0048},{"t":2,"v":0.0044},{"t":2.5,"v":0.0037},{"t":3,"v":0.003},{"t":4,"v":0.0015},{"t":6,"v":0.0007},{"t":10,"v":0}],
"hV":[{"t":0.01,"v":0.0188},{"t":0.012,"v":0.0192},{"t":0.013,"v":0.0207},{"t":0.014,"v":0.0185},{"t":0.016,"v":0.0179},{"t":0.017,"v":0.0207},{"t":0.019,"v":0.0188},{"t":0.02,"v":0.0185},{"t":0.022,"v":0.0216},{"t":0.025,"v":0.0244},{"t":0.028,"v":0.0271},{"t":0.03,"v":0.029},{"t":0.032,"v":0.0327},{"t":0.034,"v":0.0318},{"t":0.036,"v":0.0391},{"t":0.038,"v":0.0428},{"t":0.04,"v":0.0502},{"t":0.042,"v":0.0474},{"t":0.045,"v":0.052},{"t":0.048,"v":0.0465},{"t":0.05,"v":0.054},{"t":0.052,"v":0.0502},{"t":0.055,"v":0.0465},{"t":0.058,"v":0.0502},{"t":0.062,"v":0.0465},{"t":0.066,"v":0.0502},{"t":0.07,"v":0.0456},{"t":0.075,"v":0.0484},{"t":0.08,"v":0.0511},{"t":0.085,"v":0.052},{"t":0.09,"v":0.0465},{"t":0.095,"v":0.0502},{"t":0.1,"v":0.0484},{"t":0.105,"v":0.0576},{"t":0.11,"v":0.064},{"t":0.115,"v":0.054},{"t":0.12,"v":0.0502},{"t":0.125,"v":0.0594},{"t":0.13,"v":0.0576},{"t":0.14,"v":0.054},{"t":0.15,"v":0.0502},{"t":0.16,"v":0.0465},{"t":0.17,"v":0.041},{"t":0.18,"v":0.0354},{"t":0.2,"v":0.041},{"t":0.22,"v":0.0465},{"t":0.24,"v":0.0456},{"t":0.26,"v":0.0585},{"t":0.28,"v":0.0594},{"t":0.29,"v":0.0502},{"t":0.3,"v":0.041},{"t":0.32,"v":0.03},{"t":0.35,"v":0.0225},{"t":0.4,"v":0.0207},{"t":0.45,"v":0.017},{"t":0.5,"v":0.016},{"t":0.55,"v":0.017},{"t":0.6,"v":0.0133},{"t":0.7,"v":0.0096},{"t":0.8,"v":0.0059},{"t":1,"v":0.004},{"t":1.3,"v":0.0044},{"t":1.8,"v":0.0044},{"t":2.5,"v":0.0044},{"t":3,"v":0.0037},{"t":4,"v":0.0018},{"t":6,"v":0.0007},{"t":10,"v":0}]
},
"concat":[
{"width":262,"height":217,"title":{"text":"(a) DGY station, Odesan EQ","offset":6},
 "encoding":{"x":{"field":"t","type":"quantitative","title":"Period (sec)","scale":{"type":"log","domain":[0.01,10]},"axis":{"values":[0.01,0.02,0.03,0.04,0.05,0.06,0.07,0.08,0.09,0.1,0.2,0.3,0.4,0.5,0.6,0.7,0.8,0.9,1,2,3,4,5,6,7,8,9,10],"format":"~g","labelExpr":"datum.value==0.01||datum.value==0.1||datum.value==1||datum.value==10 ? datum.label : ''","gridColor":{"condition":{"test":"datum.value==0.1||datum.value==1","value":"#000000"},"value":"#a8a8a8"},"gridDash":{"condition":{"test":"datum.value==0.1||datum.value==1","value":[3,2]},"value":[2,1]},"gridOpacity":{"condition":{"test":"datum.value==0.01||datum.value==10","value":0},"value":1}}},
  "y":{"field":"v","type":"quantitative","title":"Spectral Acceleration (g)","scale":{"domain":[0,0.5]},"axis":{"values":[0,0.1,0.2,0.3,0.4,0.5],"gridOpacity":{"condition":{"test":"datum.value==0","value":0},"value":1}}}},
 "layer":[
  {"data":{"name":"aEW"},"mark":"line","encoding":{"color":{"datum":"SA-EW","type":"nominal","scale":{"domain":["SA-EW","SA-NS","SA-Vert."],"range":["#2A5490","#FF0000","#A33A3A"]},"legend":{"title":null,"labelExpr":"datum.label + '   '"}},"strokeDash":{"datum":"SA-EW","type":"nominal","scale":{"domain":["SA-EW","SA-NS","SA-Vert."],"range":[[1,0],[4,2],[9,5]]},"legend":{"title":null,"labelExpr":"datum.label + '   '"}}}},
  {"data":{"name":"aNS"},"mark":"line","encoding":{"color":{"datum":"SA-NS","type":"nominal"},"strokeDash":{"datum":"SA-NS","type":"nominal"}}},
  {"data":{"name":"aV"},"mark":"line","encoding":{"color":{"datum":"SA-Vert.","type":"nominal"},"strokeDash":{"datum":"SA-Vert.","type":"nominal"}}}
 ]},
{"width":262,"height":217,"title":{"text":"(b) USN station, Gyeongju EQ","offset":6},
 "encoding":{"x":{"field":"t","type":"quantitative","title":"Period (sec)","scale":{"type":"log","domain":[0.01,10]},"axis":{"values":[0.01,0.02,0.03,0.04,0.05,0.06,0.07,0.08,0.09,0.1,0.2,0.3,0.4,0.5,0.6,0.7,0.8,0.9,1,2,3,4,5,6,7,8,9,10],"format":"~g","labelExpr":"datum.value==0.01||datum.value==0.1||datum.value==1||datum.value==10 ? datum.label : ''","gridColor":{"condition":{"test":"datum.value==0.1||datum.value==1","value":"#000000"},"value":"#a8a8a8"},"gridDash":{"condition":{"test":"datum.value==0.1||datum.value==1","value":[3,2]},"value":[2,1]},"gridOpacity":{"condition":{"test":"datum.value==0.01||datum.value==10","value":0},"value":1}}},
  "y":{"field":"v","type":"quantitative","title":"Spectral Acceleration (g)","scale":{"domain":[0,2]},"axis":{"values":[0,0.5,1,1.5,2],"gridOpacity":{"condition":{"test":"datum.value==0","value":0},"value":1}}}},
 "layer":[
  {"data":{"name":"bEW"},"mark":"line","encoding":{"color":{"datum":"SA-EW","type":"nominal","scale":{"domain":["SA-EW","SA-NS","SA-Vert."],"range":["#2A5490","#FF0000","#A33A3A"]},"legend":{"title":null,"labelExpr":"datum.label + '   '"}},"strokeDash":{"datum":"SA-EW","type":"nominal","scale":{"domain":["SA-EW","SA-NS","SA-Vert."],"range":[[1,0],[4,2],[9,5]]},"legend":{"title":null,"labelExpr":"datum.label + '   '"}}}},
  {"data":{"name":"bNS"},"mark":"line","encoding":{"color":{"datum":"SA-NS","type":"nominal"},"strokeDash":{"datum":"SA-NS","type":"nominal"}}},
  {"data":{"name":"bV"},"mark":"line","encoding":{"color":{"datum":"SA-Vert.","type":"nominal"},"strokeDash":{"datum":"SA-Vert.","type":"nominal"}}}
 ]},
{"width":262,"height":217,"title":{"text":"(c) MKL station, Gyeongju EQ","offset":6},
 "encoding":{"x":{"field":"t","type":"quantitative","title":"Period (sec)","scale":{"type":"log","domain":[0.01,10]},"axis":{"values":[0.01,0.02,0.03,0.04,0.05,0.06,0.07,0.08,0.09,0.1,0.2,0.3,0.4,0.5,0.6,0.7,0.8,0.9,1,2,3,4,5,6,7,8,9,10],"format":"~g","labelExpr":"datum.value==0.01||datum.value==0.1||datum.value==1||datum.value==10 ? datum.label : ''","gridColor":{"condition":{"test":"datum.value==0.1||datum.value==1","value":"#000000"},"value":"#a8a8a8"},"gridDash":{"condition":{"test":"datum.value==0.1||datum.value==1","value":[3,2]},"value":[2,1]},"gridOpacity":{"condition":{"test":"datum.value==0.01||datum.value==10","value":0},"value":1}}},
  "y":{"field":"v","type":"quantitative","title":"Spectral Acceleration (g)","scale":{"domain":[0,1.2]},"axis":{"values":[0,0.3,0.6,0.9,1.2],"gridOpacity":{"condition":{"test":"datum.value==0","value":0},"value":1}}}},
 "layer":[
  {"data":{"name":"cEW"},"mark":"line","encoding":{"color":{"datum":"SA-EW","type":"nominal","scale":{"domain":["SA-EW","SA-NS","SA-Vert."],"range":["#2A5490","#FF0000","#A33A3A"]},"legend":{"title":null,"labelExpr":"datum.label + '   '"}},"strokeDash":{"datum":"SA-EW","type":"nominal","scale":{"domain":["SA-EW","SA-NS","SA-Vert."],"range":[[1,0],[4,2],[9,5]]},"legend":{"title":null,"labelExpr":"datum.label + '   '"}}}},
  {"data":{"name":"cNS"},"mark":"line","encoding":{"color":{"datum":"SA-NS","type":"nominal"},"strokeDash":{"datum":"SA-NS","type":"nominal"}}},
  {"data":{"name":"cV"},"mark":"line","encoding":{"color":{"datum":"SA-Vert.","type":"nominal"},"strokeDash":{"datum":"SA-Vert.","type":"nominal"}}}
 ]},
{"width":262,"height":217,"title":{"text":"(d) DKJ station, Gyeongju EQ","offset":6},
 "encoding":{"x":{"field":"t","type":"quantitative","title":"Period (sec)","scale":{"type":"log","domain":[0.01,10]},"axis":{"values":[0.01,0.02,0.03,0.04,0.05,0.06,0.07,0.08,0.09,0.1,0.2,0.3,0.4,0.5,0.6,0.7,0.8,0.9,1,2,3,4,5,6,7,8,9,10],"format":"~g","labelExpr":"datum.value==0.01||datum.value==0.1||datum.value==1||datum.value==10 ? datum.label : ''","gridColor":{"condition":{"test":"datum.value==0.1||datum.value==1","value":"#000000"},"value":"#a8a8a8"},"gridDash":{"condition":{"test":"datum.value==0.1||datum.value==1","value":[3,2]},"value":[2,1]},"gridOpacity":{"condition":{"test":"datum.value==0.01||datum.value==10","value":0},"value":1}}},
  "y":{"field":"v","type":"quantitative","title":"Spectral Acceleration (g)","scale":{"domain":[0,0.4]},"axis":{"values":[0,0.1,0.2,0.3,0.4],"gridOpacity":{"condition":{"test":"datum.value==0","value":0},"value":1}}}},
 "layer":[
  {"data":{"name":"dEW"},"mark":"line","encoding":{"color":{"datum":"SA-EW","type":"nominal","scale":{"domain":["SA-EW","SA-NS","SA-Vert."],"range":["#2A5490","#FF0000","#A33A3A"]},"legend":{"title":null,"labelExpr":"datum.label + '   '"}},"strokeDash":{"datum":"SA-EW","type":"nominal","scale":{"domain":["SA-EW","SA-NS","SA-Vert."],"range":[[1,0],[4,2],[9,5]]},"legend":{"title":null,"labelExpr":"datum.label + '   '"}}}},
  {"data":{"name":"dNS"},"mark":"line","encoding":{"color":{"datum":"SA-NS","type":"nominal"},"strokeDash":{"datum":"SA-NS","type":"nominal"}}},
  {"data":{"name":"dV"},"mark":"line","encoding":{"color":{"datum":"SA-Vert.","type":"nominal"},"strokeDash":{"datum":"SA-Vert.","type":"nominal"}}}
 ]},
{"width":262,"height":217,"title":{"text":"(e) PHA2 station, Pohang EQ","offset":19},
 "encoding":{"x":{"field":"t","type":"quantitative","title":"Period (sec)","scale":{"type":"log","domain":[0.01,10]},"axis":{"values":[0.01,0.02,0.03,0.04,0.05,0.06,0.07,0.08,0.09,0.1,0.2,0.3,0.4,0.5,0.6,0.7,0.8,0.9,1,2,3,4,5,6,7,8,9,10],"format":"~g","labelExpr":"datum.value==0.01||datum.value==0.1||datum.value==1||datum.value==10 ? datum.label : ''","gridColor":{"condition":{"test":"datum.value==0.1||datum.value==1","value":"#000000"},"value":"#a8a8a8"},"gridDash":{"condition":{"test":"datum.value==0.1||datum.value==1","value":[3,2]},"value":[2,1]},"gridOpacity":{"condition":{"test":"datum.value==0.01||datum.value==10","value":0},"value":1}}},
  "y":{"field":"v","type":"quantitative","title":"Spectral Acceleration (g)","scale":{"domain":[0,1]},"axis":{"values":[0,0.25,0.5,0.75,1],"gridOpacity":{"condition":{"test":"datum.value==0","value":0},"value":1}}}},
 "layer":[
  {"data":{"name":"eEW"},"mark":"line","encoding":{"color":{"datum":"SA-EW","type":"nominal","scale":{"domain":["SA-EW","SA-NS","SA-Vert."],"range":["#2A5490","#FF0000","#A33A3A"]},"legend":{"title":null,"labelExpr":"datum.label + '   '"}},"strokeDash":{"datum":"SA-EW","type":"nominal","scale":{"domain":["SA-EW","SA-NS","SA-Vert."],"range":[[1,0],[4,2],[9,5]]},"legend":{"title":null,"labelExpr":"datum.label + '   '"}}}},
  {"data":{"name":"eNS"},"mark":"line","encoding":{"color":{"datum":"SA-NS","type":"nominal"},"strokeDash":{"datum":"SA-NS","type":"nominal"}}},
  {"data":{"name":"eV"},"mark":"line","encoding":{"color":{"datum":"SA-Vert.","type":"nominal"},"strokeDash":{"datum":"SA-Vert.","type":"nominal"}}}
 ]},
{"width":262,"height":217,"title":{"text":"(f) DKJ station, Pohang EQ","offset":19},
 "encoding":{"x":{"field":"t","type":"quantitative","title":"Period (sec)","scale":{"type":"log","domain":[0.01,10]},"axis":{"values":[0.01,0.02,0.03,0.04,0.05,0.06,0.07,0.08,0.09,0.1,0.2,0.3,0.4,0.5,0.6,0.7,0.8,0.9,1,2,3,4,5,6,7,8,9,10],"format":"~g","labelExpr":"datum.value==0.01||datum.value==0.1||datum.value==1||datum.value==10 ? datum.label : ''","gridColor":{"condition":{"test":"datum.value==0.1||datum.value==1","value":"#000000"},"value":"#a8a8a8"},"gridDash":{"condition":{"test":"datum.value==0.1||datum.value==1","value":[3,2]},"value":[2,1]},"gridOpacity":{"condition":{"test":"datum.value==0.01||datum.value==10","value":0},"value":1}}},
  "y":{"field":"v","type":"quantitative","title":"Spectral Acceleration (g)","scale":{"domain":[0,0.2]},"axis":{"values":[0,0.05,0.1,0.15,0.2],"gridOpacity":{"condition":{"test":"datum.value==0","value":0},"value":1}}}},
 "layer":[
  {"data":{"name":"fEW"},"mark":"line","encoding":{"color":{"datum":"SA-EW","type":"nominal","scale":{"domain":["SA-EW","SA-NS","SA-Vert."],"range":["#2A5490","#FF0000","#A33A3A"]},"legend":{"title":null,"labelExpr":"datum.label + '   '"}},"strokeDash":{"datum":"SA-EW","type":"nominal","scale":{"domain":["SA-EW","SA-NS","SA-Vert."],"range":[[1,0],[4,2],[9,5]]},"legend":{"title":null,"labelExpr":"datum.label + '   '"}}}},
  {"data":{"name":"fNS"},"mark":"line","encoding":{"color":{"datum":"SA-NS","type":"nominal"},"strokeDash":{"datum":"SA-NS","type":"nominal"}}},
  {"data":{"name":"fV"},"mark":"line","encoding":{"color":{"datum":"SA-Vert.","type":"nominal"},"strokeDash":{"datum":"SA-Vert.","type":"nominal"}}}
 ]},
{"width":262,"height":217,"title":{"text":"(g) HAK station, Pohang EQ","offset":19},
 "encoding":{"x":{"field":"t","type":"quantitative","title":"Period (sec)","scale":{"type":"log","domain":[0.01,10]},"axis":{"values":[0.01,0.02,0.03,0.04,0.05,0.06,0.07,0.08,0.09,0.1,0.2,0.3,0.4,0.5,0.6,0.7,0.8,0.9,1,2,3,4,5,6,7,8,9,10],"format":"~g","labelExpr":"datum.value==0.01||datum.value==0.1||datum.value==1||datum.value==10 ? datum.label : ''","gridColor":{"condition":{"test":"datum.value==0.1||datum.value==1","value":"#000000"},"value":"#a8a8a8"},"gridDash":{"condition":{"test":"datum.value==0.1||datum.value==1","value":[3,2]},"value":[2,1]},"gridOpacity":{"condition":{"test":"datum.value==0.01||datum.value==10","value":0},"value":1}}},
  "y":{"field":"v","type":"quantitative","title":"Spectral Acceleration (g)","scale":{"domain":[0,0.2]},"axis":{"values":[0,0.05,0.1,0.15,0.2],"gridOpacity":{"condition":{"test":"datum.value==0","value":0},"value":1}}}},
 "layer":[
  {"data":{"name":"gEW"},"mark":"line","encoding":{"color":{"datum":"SA-EW","type":"nominal","scale":{"domain":["SA-EW","SA-NS","SA-Vert."],"range":["#2A5490","#FF0000","#A33A3A"]},"legend":{"title":null,"labelExpr":"datum.label + '   '"}},"strokeDash":{"datum":"SA-EW","type":"nominal","scale":{"domain":["SA-EW","SA-NS","SA-Vert."],"range":[[1,0],[4,2],[9,5]]},"legend":{"title":null,"labelExpr":"datum.label + '   '"}}}},
  {"data":{"name":"gNS"},"mark":"line","encoding":{"color":{"datum":"SA-NS","type":"nominal"},"strokeDash":{"datum":"SA-NS","type":"nominal"}}},
  {"data":{"name":"gV"},"mark":"line","encoding":{"color":{"datum":"SA-Vert.","type":"nominal"},"strokeDash":{"datum":"SA-Vert.","type":"nominal"}}}
 ]},
{"width":262,"height":217,"title":{"text":"(h) CHS station, Pohang EQ","offset":19},
 "encoding":{"x":{"field":"t","type":"quantitative","title":"Period (sec)","scale":{"type":"log","domain":[0.01,10]},"axis":{"values":[0.01,0.02,0.03,0.04,0.05,0.06,0.07,0.08,0.09,0.1,0.2,0.3,0.4,0.5,0.6,0.7,0.8,0.9,1,2,3,4,5,6,7,8,9,10],"format":"~g","labelExpr":"datum.value==0.01||datum.value==0.1||datum.value==1||datum.value==10 ? datum.label : ''","gridColor":{"condition":{"test":"datum.value==0.1||datum.value==1","value":"#000000"},"value":"#a8a8a8"},"gridDash":{"condition":{"test":"datum.value==0.1||datum.value==1","value":[3,2]},"value":[2,1]},"gridOpacity":{"condition":{"test":"datum.value==0.01||datum.value==10","value":0},"value":1}}},
  "y":{"field":"v","type":"quantitative","title":"Spectral Acceleration (g)","scale":{"domain":[0,0.12]},"axis":{"values":[0,0.03,0.06,0.09,0.12],"gridOpacity":{"condition":{"test":"datum.value==0","value":0},"value":1}}}},
 "layer":[
  {"data":{"name":"hEW"},"mark":"line","encoding":{"color":{"datum":"SA-EW","type":"nominal","scale":{"domain":["SA-EW","SA-NS","SA-Vert."],"range":["#2A5490","#FF0000","#A33A3A"]},"legend":{"title":null,"labelExpr":"datum.label + '   '"}},"strokeDash":{"datum":"SA-EW","type":"nominal","scale":{"domain":["SA-EW","SA-NS","SA-Vert."],"range":[[1,0],[4,2],[9,5]]},"legend":{"title":null,"labelExpr":"datum.label + '   '"}}}},
  {"data":{"name":"hNS"},"mark":"line","encoding":{"color":{"datum":"SA-NS","type":"nominal"},"strokeDash":{"datum":"SA-NS","type":"nominal"}}},
  {"data":{"name":"hV"},"mark":"line","encoding":{"color":{"datum":"SA-Vert.","type":"nominal"},"strokeDash":{"datum":"SA-Vert.","type":"nominal"}}}
 ]}
]
}
